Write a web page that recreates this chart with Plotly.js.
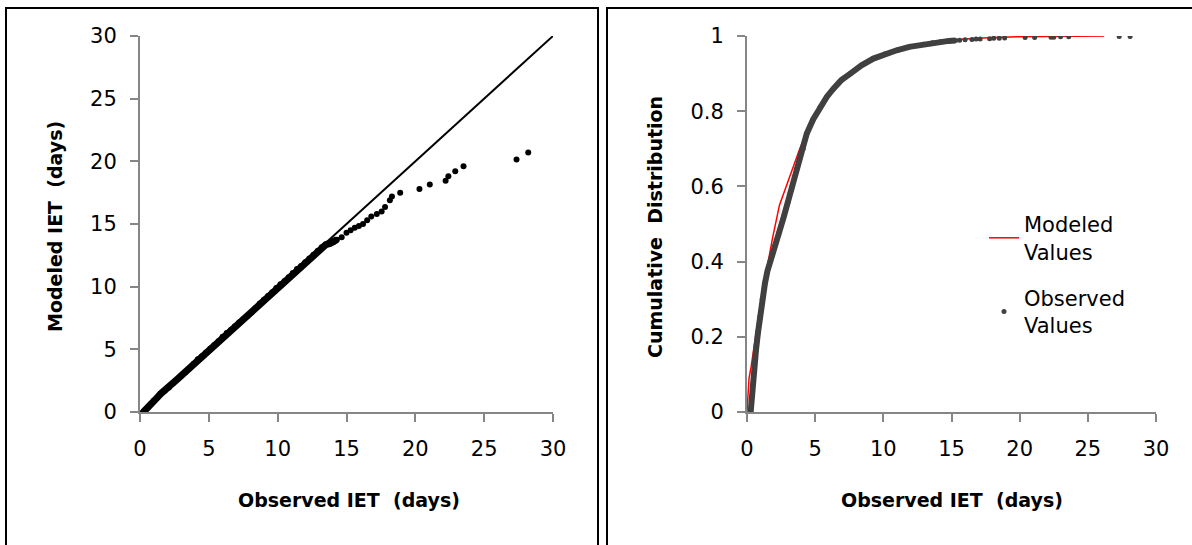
<!DOCTYPE html>
<html>
<head>
<meta charset="utf-8">
<script src="https://cdn.plot.ly/plotly-3.0.1.min.js"></script>
<style>html,body{margin:0;padding:0;background:#fff;}#chart{width:1192px;height:545px;}</style>
</head>
<body>
<div id="chart"></div>
<script>
// ---- Left panel: Q-Q plot (Observed vs Modeled IET, days) ----
var qqObserved = [0.25,0.4,0.6,0.8,1.0,1.25,1.5,1.8,2.1,2.4,2.7,3.0,3.3,3.6,3.9,4.2,4.5,4.8,5.1,5.4,5.7,6.0,6.3,6.6,6.9,7.2,7.5,7.8,8.1,8.4,8.7,9.0,9.3,9.6,9.9,10.2,10.5,10.8,11.1,11.4,11.7,12.0,12.3,12.6,12.9,13.2,13.5,
  13.8,14.04,14.3,14.65,15.0,15.3,15.6,15.9,16.2,16.5,16.8,17.2,17.55,17.8,18.15,18.3,18.9,20.3,21.05,22.2,22.4,22.9,23.5,27.35,28.2];
var qqModeled = [0.0,0.15,0.4,0.65,0.9,1.15,1.45,1.7,1.95,2.3,2.6,2.9,3.2,3.5,3.85,4.2,4.45,4.75,5.05,5.35,5.65,6.0,6.3,6.55,6.85,7.15,7.4,7.65,7.95,8.3,8.65,8.95,9.25,9.55,9.9,10.2,10.45,10.75,11.1,11.4,11.65,11.95,12.25,12.55,12.85,13.15,13.35,
  13.45,13.55,13.75,13.95,14.3,14.5,14.7,14.85,15.0,15.3,15.6,15.8,16.0,16.35,16.9,17.2,17.5,17.8,18.15,18.45,18.8,19.2,19.6,20.15,20.7];
var qqDenseCount = 50;   // points that merge into a continuous band
var refLineX = [0, 30];
var refLineY = [0, 30];

// ---- Right panel: cumulative distribution ----
var cdfObsX = [0.27,0.35,0.46,0.55,0.66,0.8,0.95,1.12,1.32,1.5,1.72,2.0,2.35,2.68,3.0,3.32,3.62,3.88,4.12,4.38,4.85,5.36,5.85,6.34,6.9,7.58,8.4,9.27,10.1,10.98,11.9,12.94,13.6,14.2,14.8,15.3];
var cdfObsY = [0.0,0.04,0.076,0.12,0.165,0.21,0.254,0.3,0.343,0.375,0.405,0.44,0.477,0.517,0.557,0.6,0.646,0.675,0.70,0.74,0.778,0.811,0.838,0.86,0.882,0.9,0.922,0.94,0.952,0.962,0.971,0.978,0.982,0.985,0.987,0.988];
var cdfTailX = [15.6,16.0,16.5,16.8,17.1,17.8,18.1,18.5,18.9,20.4,21.1,22.3,22.5,23.0,23.6,27.3,28.1];
var cdfTailY = [0.989,0.99,0.991,0.992,0.992,0.993,0.994,0.994,0.995,0.996,0.996,0.997,0.997,0.998,0.998,0.999,0.999];
var cdfModX = [0.0,0.05,0.15,0.3,0.42,0.7,1.0,1.3,1.62,1.88,2.38,2.88,3.38,3.87,4.4,5.0,5.6,6.2,6.9,7.6,8.5,9.3,10.2,11.0,12.0,13.0,14.0,15.0,16.5,18.0,20.0,22.0,24.0,26.2];
var cdfModY = [0.0,0.04,0.09,0.12,0.15,0.22,0.29,0.35,0.414,0.464,0.55,0.6,0.655,0.7,0.745,0.79,0.83,0.86,0.885,0.905,0.925,0.942,0.955,0.965,0.974,0.981,0.986,0.99,0.994,0.996,0.998,0.999,1.0,1.0];

var xTicks = [0,5,10,15,20,25,30];
var yTicksLeft = [0,5,10,15,20,25,30];
var yTicksRight = [0,0.2,0.4,0.6,0.8,1];

var W = 1192, H = 545;
function px(x){ return x / W; }
function py(y){ return (H - y) / H; }

var FONT = "DejaVu Sans, sans-serif";
var GRAY = "#868686";
var DARK = "#404040";

var traces = [
  {x: refLineX, y: refLineY, xaxis: "x", yaxis: "y", mode: "lines",
   line: {color: "#000", width: 2}, showlegend: false, hoverinfo: "skip"},
  {x: qqObserved.slice(0, qqDenseCount), y: qqModeled.slice(0, qqDenseCount), xaxis: "x", yaxis: "y", mode: "lines",
   line: {color: "#000", width: 7}, showlegend: false, hoverinfo: "skip"},
  {x: qqObserved, y: qqModeled, xaxis: "x", yaxis: "y", mode: "markers",
   marker: {color: "#000", size: 6}, showlegend: false},
  {x: cdfModX, y: cdfModY, xaxis: "x2", yaxis: "y2", mode: "lines",
   line: {color: "#ff0000", width: 1.5}, name: "Modeled<br>Values", legendgroup: "m"},
  {x: cdfObsX, y: cdfObsY, xaxis: "x2", yaxis: "y2", mode: "lines",
   line: {color: DARK, width: 6}, showlegend: false, hoverinfo: "skip"},
  {x: cdfObsX.concat(cdfTailX), y: cdfObsY.concat(cdfTailY), xaxis: "x2", yaxis: "y2", mode: "markers",
   marker: {color: DARK, size: 5}, name: "Observed<br>Values", legendgroup: "o"}
];

function axisBase(extra){
  var a = {showgrid: false, zeroline: false, showline: true, linecolor: GRAY, linewidth: 2,
    ticks: "outside", ticklen: 8, tickwidth: 2, tickcolor: GRAY,
    tickfont: {family: FONT, size: 21, color: "#000"}, ticklabelstandoff: 9, fixedrange: true};
  for (var k in extra) a[k] = extra[k];
  return a;
}

var titleFont = {family: FONT, size: 19, color: "#000"};

var layout = {
  width: W, height: H,
  margin: {l: 0, r: 0, t: 0, b: 0},
  paper_bgcolor: "#fff", plot_bgcolor: "rgba(0,0,0,0)",
  xaxis: axisBase({domain: [px(140), px(553)], range: [0, 30], tickvals: xTicks, anchor: "y"}),
  yaxis: axisBase({domain: [py(412), py(36)], range: [0, 30], tickvals: yTicksLeft, anchor: "x"}),
  xaxis2: axisBase({domain: [px(747), px(1156)], range: [0, 30], tickvals: xTicks, anchor: "y2"}),
  yaxis2: axisBase({domain: [py(412), py(36)], range: [0, 1], tickvals: yTicksRight, anchor: "x2"}),
  showlegend: true,
  legend: {x: px(984), y: py(204), xanchor: "left", yanchor: "top",
    font: {family: FONT, size: 21, color: "#000"}, bgcolor: "rgba(0,0,0,0)", tracegroupgap: 16},
  annotations: [
    {text: "<b>Observed IET  (days)</b>", xref: "paper", yref: "paper", x: px(349), y: py(500),
     xanchor: "center", yanchor: "middle", showarrow: false, font: titleFont},
    {text: "<b>Modeled IET  (days)</b>", xref: "paper", yref: "paper", x: px(55), y: py(227),
     xanchor: "center", yanchor: "middle", showarrow: false, textangle: -90, font: titleFont},
    {text: "<b>Observed IET  (days)</b>", xref: "paper", yref: "paper", x: px(952), y: py(500),
     xanchor: "center", yanchor: "middle", showarrow: false, font: titleFont},
    {text: "<b>Cumulative  Distribution</b>", xref: "paper", yref: "paper", x: px(655), y: py(227),
     xanchor: "center", yanchor: "middle", showarrow: false, textangle: -90, font: titleFont}
  ],
  shapes: [
    {type: "line", xref: "paper", yref: "paper", x0: px(6), x1: px(6), y0: py(7), y1: py(560), line: {color: "#000", width: 2}},
    {type: "line", xref: "paper", yref: "paper", x0: px(5), x1: px(599), y0: py(8), y1: py(8), line: {color: "#000", width: 2}},
    {type: "line", xref: "paper", yref: "paper", x0: px(598), x1: px(598), y0: py(7), y1: py(560), line: {color: "#000", width: 2}},
    {type: "line", xref: "paper", yref: "paper", x0: px(607), x1: px(607), y0: py(7), y1: py(560), line: {color: "#000", width: 2}},
    {type: "line", xref: "paper", yref: "paper", x0: px(606), x1: px(1200), y0: py(8), y1: py(8), line: {color: "#000", width: 2}}
  ]
};

Plotly.newPlot("chart", traces, layout, {displayModeBar: false, staticPlot: true});
</script>
</body>
</html>
